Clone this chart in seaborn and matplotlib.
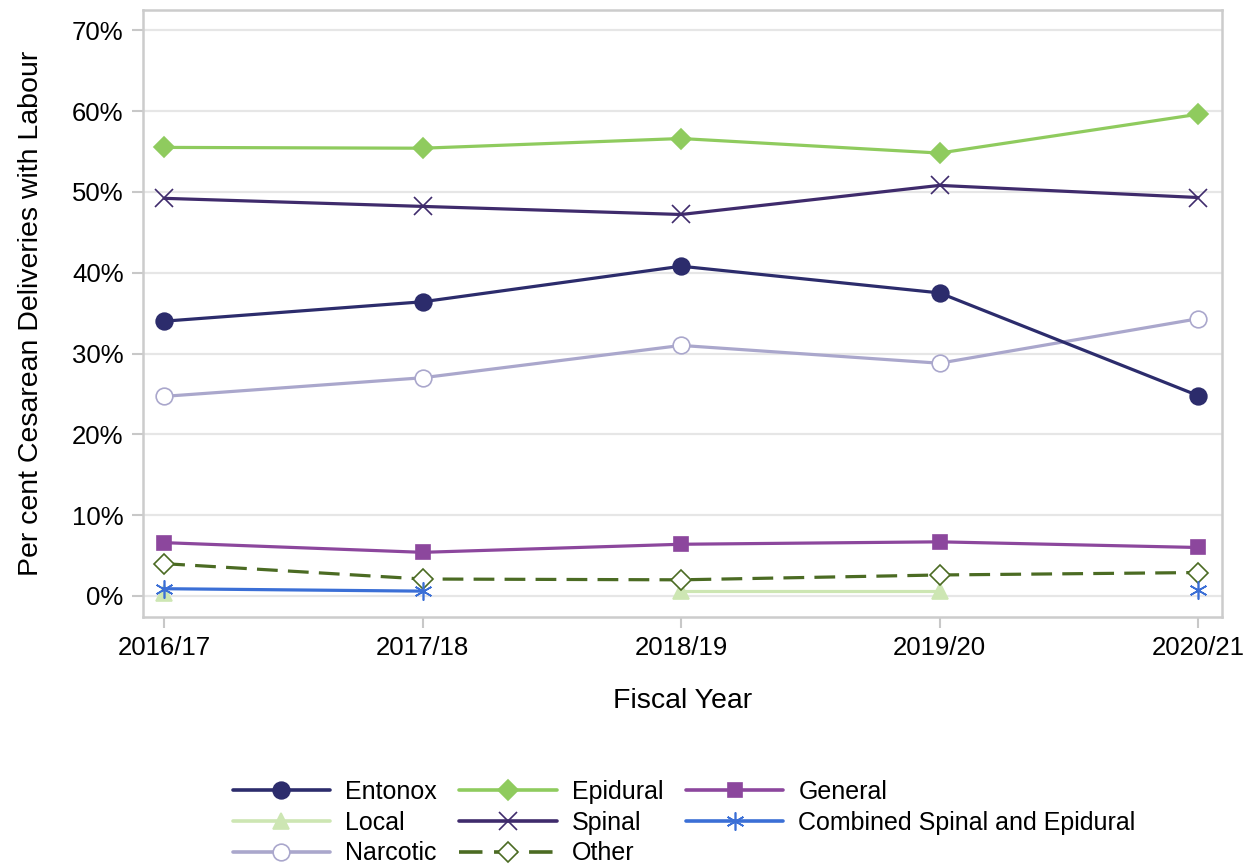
import numpy as np
import pandas as pd
import matplotlib
matplotlib.use("Agg")
import matplotlib.pyplot as plt
import seaborn as sns
from matplotlib.ticker import PercentFormatter
from matplotlib.lines import Line2D

years = ["2016/17", "2017/18", "2018/19", "2019/20", "2020/21"]
entonox = [34.0, 36.4, 40.8, 37.5, 24.8]
epidural = [55.5, 55.4, 56.6, 54.8, 59.6]
general = [6.6, 5.4, 6.4, 6.7, 6.0]
local = [0.4, np.nan, 0.6, 0.6, np.nan]
spinal = [49.2, 48.2, 47.2, 50.8, 49.3]
combined = [0.9, 0.6, np.nan, np.nan, 0.8]
narcotic = [24.7, 27.0, 31.0, 28.8, 34.3]
other = [4.0, 2.1, 2.0, 2.6, 2.9]

series = {
    "Entonox": entonox, "Local": local, "Narcotic": narcotic,
    "Epidural": epidural, "Spinal": spinal, "Other": other,
    "General": general, "Combined Spinal and Epidural": combined,
}
styles = {
    "Entonox": dict(color="#2c2c6c", marker="o", ms=12, mfc="#2c2c6c", mec="#2c2c6c", ls="-"),
    "Epidural": dict(color="#8fcb5e", marker="D", ms=10.5, mfc="#8fcb5e", mec="#8fcb5e", ls="-"),
    "General": dict(color="#8c479d", marker="s", ms=10.5, mfc="#8c479d", mec="#8c479d", ls="-"),
    "Local": dict(color="#cde6b3", marker="^", ms=11, mfc="#cde6b3", mec="#cde6b3", ls="-"),
    "Spinal": dict(color="#3f2b6c", marker="x", ms=13, mfc="#3f2b6c", mec="#3f2b6c", ls="-"),
    "Combined Spinal and Epidural": dict(color="#3b6fd6", marker=(6, 2, 0), ms=13, mfc="#3b6fd6", mec="#3b6fd6", ls="-"),
    "Narcotic": dict(color="#aaa7cc", marker="o", ms=12, mfc="white", mec="#aaa7cc", ls="-"),
    "Other": dict(color="#4b6b23", marker="D", ms=10.5, mfc="white", mec="#4b6b23", ls="--"),
}
DASH = (6.5, 3.2)

sns.set_theme(style="white")
plt.rcParams["font.family"] = ["Liberation Sans", "DejaVu Sans"]
plt.rcParams["text.color"] = "black"
plt.rcParams["axes.labelcolor"] = "black"

fig = plt.figure(figsize=(12.51, 8.65), dpi=100)
ax = fig.add_axes([143 / 1251, 1 - 617 / 865, (1222 - 143) / 1251, (617 - 10) / 865])

xpos = np.arange(len(years))
draw_order = ["Narcotic", "Local", "Other", "Combined Spinal and Epidural", "General",
              "Spinal", "Epidural", "Entonox"]
handles = {}
for name in draw_order:
    vals = np.array(series[name], dtype=float)
    seg = np.cumsum(np.isnan(vals))
    df = pd.DataFrame({"x": xpos, "y": vals, "seg": seg}).dropna()
    st = styles[name]
    kw = dict(lw=2.3, marker=st["marker"], markersize=st["ms"],
              markerfacecolor=st["mfc"], markeredgecolor=st["mec"], markeredgewidth=1.2)
    if st["ls"] == "--":
        kw["dashes"] = DASH
    sns.lineplot(data=df, x="x", y="y", units="seg", estimator=None, color=st["color"],
                 ax=ax, legend=False, **kw)
    handles[name] = Line2D([], [], color=st["color"], lw=2.6, marker=st["marker"],
                           markersize=st["ms"], markerfacecolor=st["mfc"],
                           markeredgecolor=st["mec"], markeredgewidth=1.2,
                           linestyle=(0, DASH) if st["ls"] == "--" else "-")

ax.set_xlim(-0.082, 4.093)
ax.set_ylim(-2.6, 72.5)
ax.set_xticks(xpos)
ax.set_xticklabels(years)
ax.set_yticks(np.arange(0, 71, 10))
ax.yaxis.set_major_formatter(PercentFormatter(decimals=0))
ax.grid(axis="y", color="#e6e6e6", lw=1.6)
ax.set_axisbelow(True)
for sp in ax.spines.values():
    sp.set_color("#cccccc")
    sp.set_linewidth(1.8)
ax.tick_params(axis="both", which="both", length=8, width=1.5, color="#c8c8c8",
               labelsize=18.5, labelcolor="black", pad=6, bottom=True, left=True)
ax.set_xlabel("Fiscal Year", fontsize=20.5, labelpad=20, color="black")
ax.set_ylabel("Per cent Cesarean Deliveries with Labour", fontsize=20.5, labelpad=20,
              color="black")

order = ["Entonox", "Local", "Narcotic", "Epidural", "Spinal", "Other",
         "General", "Combined Spinal and Epidural"]
leg = fig.legend([handles[n] for n in order], order, loc="upper center",
                 bbox_to_anchor=(684 / 1251, 1 - 780 / 865), ncol=3, frameon=False,
                 fontsize=18, handlelength=3.9, handletextpad=0.6, columnspacing=0.9,
                 labelspacing=0.27, borderaxespad=0, borderpad=0)
for t in leg.get_texts():
    t.set_color("black")

fig.savefig("out.png", dpi=100)
